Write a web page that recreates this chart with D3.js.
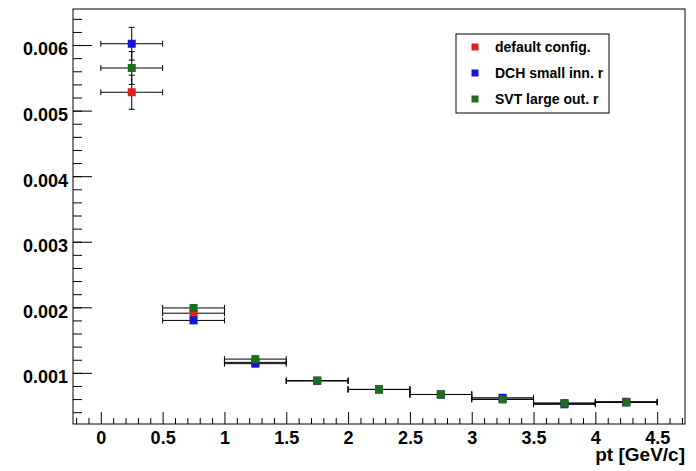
<!DOCTYPE html>
<html lang="en">
  <head>
    <meta charset="UTF-8" />
    <title>pt resolution</title>
    <script src="https://d3js.org/d3.v7.min.js"></script>
    <style>
      body { margin: 0; background: #fff; }
      text { font-family: "Liberation Sans", Arial, sans-serif; font-weight: bold; }
    </style>
  </head>
  <body>
    <div id="chart"></div>
    <script>
      // bin centres (pt, GeV/c), bins are 0.5 wide
      var binCenters = [0.25, 0.75, 1.25, 1.75, 2.25, 2.75, 3.25, 3.75, 4.25];
      var binHalfWidth = 0.25;

      var seriesNames = ["default config.", "DCH small inn. r", "SVT large out. r"];
      var seriesColors = ["#e0201c", "#1515e0", "#1b6e1b"];

      var defaultVals = [0.00528, 0.00191, 0.00116, 0.00088, 0.000747, 0.00067, 0.0006, 0.00054, 0.00056];
      var defaultErrs = [0.00026, 0.00005, 0.00004, 0.00003, 0.00003, 0.00002, 0.00002, 0.00002, 0.00002];
      var dchVals = [0.00602, 0.0018, 0.00114, 0.00088, 0.000747, 0.00067, 0.00062, 0.00052, 0.00055];
      var dchErrs = [0.00025, 0.00005, 0.00004, 0.00003, 0.00003, 0.00002, 0.00002, 0.00002, 0.00002];
      var svtVals = [0.00565, 0.00199, 0.00121, 0.00088, 0.000747, 0.00067, 0.000595, 0.000535, 0.00055];
      var svtErrs = [0.00025, 0.00005, 0.00004, 0.00003, 0.00003, 0.00002, 0.00002, 0.00002, 0.00002];

      var xMajor = [0, 0.5, 1, 1.5, 2, 2.5, 3, 3.5, 4, 4.5];
      var yMajor = [0.001, 0.002, 0.003, 0.004, 0.005, 0.006];

      (function () {
        var W = 696, H = 471;
        var fL = 73, fR = 685, fT = 9, fB = 424;

        var svg = d3.select("#chart").append("svg")
          .attr("width", W).attr("height", H);

        var x = d3.scaleLinear().domain([-0.225, 4.725]).range([fL, fR]);
        var y = d3.scaleLinear().domain([0.00022, 0.00655]).range([fB, fT]);

        // minor ticks every 0.1 / 0.0002
        var xMinor = d3.range(-2, 48).map(function (i) { return i / 10; })
          .filter(function (v) { return Math.abs(v * 2 - Math.round(v * 2)) > 1e-6; });
        var yMinor = d3.range(2, 33).map(function (i) { return i * 0.0002; });

        svg.append("g").attr("transform", "translate(0," + fB + ")")
          .call(d3.axisBottom(x).tickValues(xMinor).tickSize(-6).tickFormat(""))
          .call(function (g) { g.select(".domain").remove(); });
        svg.append("g").attr("transform", "translate(0," + fB + ")")
          .call(d3.axisBottom(x).tickValues(xMajor).tickSize(-12).tickPadding(7)
            .tickFormat(function (d) { return String(d); }))
          .call(function (g) {
            g.select(".domain").remove();
            g.selectAll("text").attr("font-size", 18).attr("fill", "#000")
              .attr("font-family", null);
          });

        svg.append("g").attr("transform", "translate(" + fL + ",0)")
          .call(d3.axisLeft(y).tickValues(yMinor).tickSize(-9).tickFormat(""))
          .call(function (g) { g.select(".domain").remove(); });
        svg.append("g").attr("transform", "translate(" + fL + ",0)")
          .call(d3.axisLeft(y).tickValues(yMajor).tickSize(-19).tickPadding(5)
            .tickFormat(d3.format(".3f")))
          .call(function (g) {
            g.select(".domain").remove();
            g.selectAll("text").attr("font-size", 18).attr("fill", "#000")
              .attr("dy", "0.55em").attr("font-family", null);
          });
        svg.selectAll(".tick line").attr("stroke", "#000");

        // frame
        svg.append("rect")
          .attr("x", fL).attr("y", fT)
          .attr("width", fR - fL).attr("height", fB - fT)
          .attr("fill", "none").attr("stroke", "#000").attr("stroke-width", 1);

        svg.append("text")
          .attr("x", fR).attr("y", 461)
          .attr("text-anchor", "end")
          .attr("font-size", 19)
          .text("pt [GeV/c]");

        // error bars + markers
        var series = [
          { vals: defaultVals, errs: defaultErrs, color: seriesColors[0] },
          { vals: dchVals, errs: dchErrs, color: seriesColors[1] },
          { vals: svtVals, errs: svtErrs, color: seriesColors[2] },
        ];
        var cap = 3, ms = 8;

        series.forEach(function (s) {
          var pts = binCenters.map(function (c, i) {
            return { x: c, v: s.vals[i], e: s.errs[i] };
          });
          var g = svg.append("g");
          var eb = g.selectAll(".eb").data(pts).enter().append("g")
            .attr("stroke", "#000").attr("stroke-width", 1).attr("fill", "none");
          eb.append("line")
            .attr("x1", function (d) { return x(d.x - binHalfWidth); })
            .attr("x2", function (d) { return x(d.x + binHalfWidth); })
            .attr("y1", function (d) { return y(d.v); })
            .attr("y2", function (d) { return y(d.v); });
          [-1, 1].forEach(function (side) {
            eb.append("line")
              .attr("x1", function (d) { return x(d.x + side * binHalfWidth); })
              .attr("x2", function (d) { return x(d.x + side * binHalfWidth); })
              .attr("y1", function (d) { return y(d.v) - cap; })
              .attr("y2", function (d) { return y(d.v) + cap; });
          });
          eb.append("line")
            .attr("x1", function (d) { return x(d.x); })
            .attr("x2", function (d) { return x(d.x); })
            .attr("y1", function (d) { return y(d.v + d.e); })
            .attr("y2", function (d) { return y(d.v - d.e); });
          eb.filter(function (d) { return y(d.v - d.e) - y(d.v + d.e) > ms; })
            .each(function (d) {
              var sel = d3.select(this);
              [d.v + d.e, d.v - d.e].forEach(function (yy) {
                sel.append("line")
                  .attr("x1", x(d.x) - cap).attr("x2", x(d.x) + cap)
                  .attr("y1", y(yy)).attr("y2", y(yy));
              });
            });
          g.selectAll(".mk").data(pts).enter().append("rect")
            .attr("x", function (d) { return x(d.x) - ms / 2; })
            .attr("y", function (d) { return y(d.v) - ms / 2; })
            .attr("width", ms).attr("height", ms)
            .attr("fill", s.color);
        });

        // legend
        var lg = svg.append("g");
        lg.append("rect")
          .attr("x", 456).attr("y", 34).attr("width", 153).attr("height", 79)
          .attr("fill", "#fff").attr("stroke", "#000").attr("stroke-width", 1);
        seriesNames.forEach(function (name, i) {
          var cy = 47 + i * 26;
          lg.append("rect")
            .attr("x", 471.5).attr("y", cy - 3.5).attr("width", 7).attr("height", 7)
            .attr("fill", seriesColors[i]);
          lg.append("text")
            .attr("x", 495).attr("y", cy + 5)
            .attr("font-size", 14)
            .text(name);
        });
      })();
    </script>
  </body>
</html>
